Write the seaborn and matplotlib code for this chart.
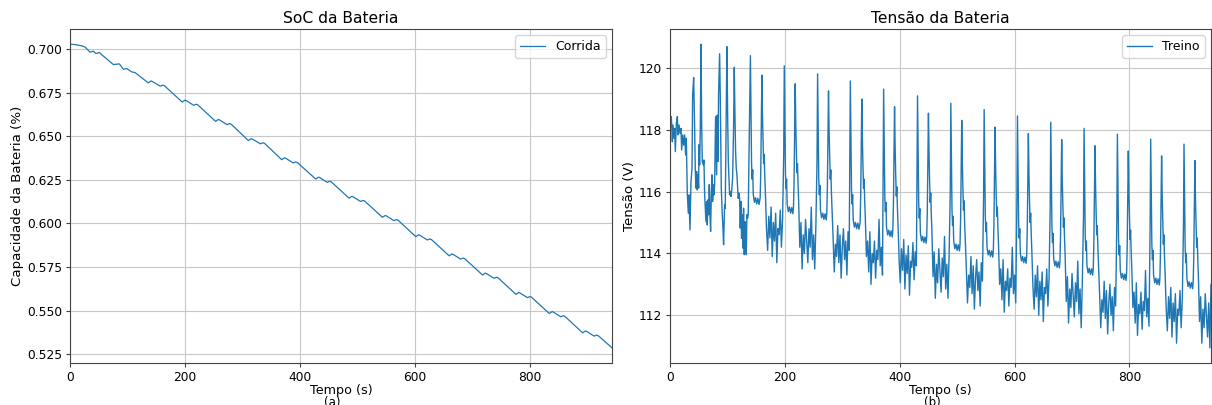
import matplotlib
matplotlib.use("Agg")
import matplotlib.pyplot as plt
import seaborn as sns
import pandas as pd

# ---------------- SoC data (left panel) ----------------
tempo_soc = [0, 10, 20, 26, 34.8, 40.6, 45.2, 51, 55, 75.4, 85.8, 92.8, 98.6, 107.2, 113,
             136, 141, 144, 157, 161, 164,
             195, 200, 203, 215, 219, 222,
             253, 258, 261, 273, 277, 280,
             310, 315, 318, 331, 335, 338,
             368, 373, 376, 388, 392, 395,
             427, 432, 435, 447, 451, 454,
             485, 490, 493, 505, 509, 512,
             543, 548, 551, 563, 567, 570,
             601, 606, 609, 621, 625, 628,
             659, 664, 667, 679, 683, 686,
             717, 722, 725, 737, 741, 744,
             775, 780, 783, 795, 799, 802,
             833, 838, 841, 853, 857, 860,
             891, 896, 899, 911, 915, 918,
             942]
soc = [0.7029, 0.7026, 0.7020, 0.7013, 0.6983, 0.6989, 0.6975, 0.6981, 0.6969, 0.6912, 0.6916, 0.6885, 0.6889, 0.6870, 0.6866,
       0.6807, 0.6818, 0.6813, 0.6788, 0.6794, 0.6791,
       0.6697, 0.6708, 0.6703, 0.6678, 0.6684, 0.6681,
       0.6586, 0.6597, 0.6592, 0.6567, 0.6573, 0.6570,
       0.6476, 0.6487, 0.6482, 0.6457, 0.6463, 0.6460,
       0.6366, 0.6377, 0.6372, 0.6347, 0.6353, 0.6350,
       0.6255, 0.6266, 0.6261, 0.6236, 0.6242, 0.6239,
       0.6145, 0.6156, 0.6151, 0.6126, 0.6132, 0.6129,
       0.6035, 0.6046, 0.6041, 0.6016, 0.6022, 0.6019,
       0.5924, 0.5935, 0.5930, 0.5905, 0.5911, 0.5908,
       0.5814, 0.5825, 0.5820, 0.5795, 0.5801, 0.5798,
       0.5704, 0.5715, 0.5710, 0.5685, 0.5691, 0.5688,
       0.5593, 0.5604, 0.5599, 0.5574, 0.5580, 0.5577,
       0.5483, 0.5494, 0.5489, 0.5464, 0.5470, 0.5467,
       0.5372, 0.5383, 0.5378, 0.5353, 0.5359, 0.5356,
       0.5286]

# ---------------- Voltage data (right panel) ----------------
tempo_tensao = [
    0, 1.2, 2.3, 4.1, 5.2, 7.0, 8.1, 9.3, 11.0, 12.8, 13.9, 15.7, 17.4, 19.1, 20.3, 22.0, 23.8, 25.5, 27.2, 28.4,
    30.1, 31.9, 33.0, 34.8, 36.5, 38.3, 39.4, 41.2, 42.9, 44.1, 45.2, 46.4, 47.5, 48.7, 49.9, 50.4, 51.6, 52.8,
    53.9, 55.1, 56.2, 58.0, 59.1, 60.3, 61.5, 62.6, 63.8, 64.9, 66.1, 67.2, 68.4, 69.6, 70.7, 71.9, 73.0, 74.2,
    75.4, 76.5, 77.7, 79.4, 81.2, 82.3, 83.5, 84.6, 86.4, 87.5, 88.1, 89.3, 91.0, 92.2, 93.3, 95.1, 96.2, 97.4,
    99.1, 100.3, 101.5, 102.6, 103.8, 104.9, 106.1, 107.3, 109.0, 110.7, 111.9, 113.0, 114.2, 115.4, 116.5,
    117.7, 118.8, 120.0, 121.2, 122.3, 123.5, 124.6, 125.8, 126.9, 128.1, 129.3, 130.4, 131.6, 132.8, 133.9,
    135.1, 136.2, 137.4, 139.1,
    140, 141, 142, 143, 144, 145, 147, 149, 151, 153, 155, 157, 158, 159, 160, 161, 162, 163, 164, 165, 166,
    168, 170, 172, 174, 176, 178, 180, 182, 184, 186, 188, 190, 192, 194, 196,
    198, 199, 200, 201, 202, 203, 204, 206, 208, 210, 212, 214, 215, 216, 217, 218, 219, 220, 221, 222, 223, 224,
    226, 228, 230, 232, 234, 236, 238, 240, 242, 244, 246, 248, 250, 252, 254,
    256, 257, 258, 259, 260, 261, 262, 264, 266, 268, 270, 272, 273, 274, 275, 276, 277, 278, 279, 280, 281, 282,
    284, 286, 288, 290, 292, 294, 296, 298, 300, 302, 304, 306, 308, 310, 312,
    313, 314, 315, 316, 317, 318, 319, 321, 323, 325, 327, 329, 331, 332, 333, 334, 335, 336, 337, 338, 339, 340,
    342, 344, 346, 348, 350, 352, 354, 356, 358, 360, 362, 364, 366, 368, 370,
    371, 372, 373, 374, 375, 376, 377, 379, 381, 383, 385, 387, 388, 389, 390, 391, 392, 393, 394, 395, 396, 397,
    399, 401, 403, 405, 407, 409, 411, 413, 415, 417, 419, 421, 423, 425, 427, 429,
    430, 431, 432, 433, 434, 435, 436, 438, 440, 442, 444, 446, 447, 448, 449, 450, 451, 452, 453, 454, 455, 456,
    458, 460, 462, 464, 466, 468, 470, 472, 474, 476, 478, 480, 482, 484, 486,
    488, 489, 490, 491, 492, 493, 494, 496, 498, 500, 502, 504, 505, 506, 507, 508, 509, 510, 511, 512, 513, 514,
    516, 518, 520, 522, 524, 526, 528, 530, 532, 534, 536, 538, 540, 542, 544,
    546, 547, 548, 549, 550, 551, 552, 554, 556, 558, 560, 562, 563, 564, 565, 566, 567, 568, 569, 570, 571, 572,
    574, 576, 578, 580, 582, 584, 586, 588, 590, 592, 594, 596, 598, 600, 602,
    604, 605, 606, 607, 608, 609, 610, 612, 614, 616, 618, 620, 621, 622, 623, 624, 625, 626, 627, 628, 629, 630,
    632, 634, 636, 638, 640, 642, 644, 646, 648, 650, 652, 654, 656, 658, 660,
    662, 663, 664, 665, 666, 667, 668, 670, 672, 674, 676, 678, 679, 680, 681, 682, 683, 684, 685, 686, 687, 688,
    690, 692, 694, 696, 698, 700, 702, 704, 706, 708, 710, 712, 714, 716, 718,
    720, 721, 722, 723, 724, 725, 726, 728, 730, 732, 734, 736, 737, 738, 739, 740, 741, 742, 743, 744, 745, 746,
    748, 750, 752, 754, 756, 758, 760, 762, 764, 766, 768, 770, 772, 774, 776,
    778, 779, 780, 781, 782, 783, 784, 786, 788, 790, 792, 794, 795, 796, 797, 798, 799, 800, 801, 802, 803, 804,
    806, 808, 810, 812, 814, 816, 818, 820, 822, 824, 826, 828, 830, 832, 834,
    836, 837, 838, 839, 840, 841, 842, 844, 846, 848, 850, 852, 853, 854, 855, 856, 857, 858, 859, 860, 861, 862,
    864, 866, 868, 870, 872, 874, 876, 878, 880, 882, 884, 886, 888, 890, 892,
    894, 895, 896, 897, 898, 899, 900, 902, 904, 906, 908, 910, 911, 912, 913, 914, 915, 916, 917, 918, 919, 920,
    922, 924, 926, 928, 930, 932, 934, 936, 938, 940, 942]
tensao = [
    118.0, 118.26, 118.42, 117.61, 118.15, 117.72, 118.04, 117.29, 118.2, 118.42, 117.83, 118.15, 117.88, 118.04, 117.34, 117.83, 117.5, 117.83, 117.18, 117.72,
    115.95, 115.3, 115.89, 114.76, 116.32, 116.75, 119.12, 119.68, 118.04, 116.65, 116.11, 116.65, 116.05, 116.54, 116.11, 117.51, 116.86, 118.04,
    120.76, 118.26, 116.97, 116.86, 117.02, 115.89, 115.46, 115.03, 115.68, 114.92, 115.73, 115.25, 116.22, 115.25, 114.71, 115.89, 116.54, 115.68,
    116.22, 115.89, 116.22, 118.42, 116.54, 118.47, 116.97, 119.17, 120.45, 119.12, 118.04, 116.11, 115.25, 114.82, 114.28, 115.57, 115.46, 117.51,
    120.68, 118.58, 116.97, 116.43, 115.89, 116.0, 115.84, 116.0, 116.43, 118.04, 120.01, 118.58, 117.29, 116.75, 116.54,
    116.11, 115.78, 115.95, 115.78, 114.82, 115.68, 114.49, 115.25, 114.17, 115.46, 113.96, 115.03, 114.28, 113.96, 115.25,
    115.14, 115.25, 116.97, 119.12,
    120.39, 118.59, 116.9, 116.4, 116.7, 115.9, 115.65, 115.8, 115.6, 115.78, 115.58, 115.8, 116.6, 118.2, 119.76, 118.46, 117.6, 116.9, 117.2, 116.5, 116.0,
    114.8, 114.1, 115.2, 114.5, 115.5, 113.9, 115.0, 114.4, 115.3, 113.7, 114.8, 114.6, 115.4, 114.2, 115.1,
    117.2, 120.06, 118.26, 116.6, 116.1, 116.4, 115.6, 115.35, 115.5, 115.3, 115.48, 115.28, 115.5, 116.3, 117.9, 119.48, 118.18, 117.3, 116.6, 116.9, 116.2, 115.7,
    114.2, 115.0, 113.5, 114.6, 114.0, 115.1, 114.4, 113.7, 114.8, 114.2, 115.5, 113.8, 114.6, 113.5, 114.9,
    117.0, 119.80, 118.0, 116.4, 115.9, 116.2, 115.4, 115.15, 115.3, 115.1, 115.28, 115.08, 115.3, 116.1, 117.7, 119.25, 117.95, 117.1, 116.4, 116.7, 116.0, 115.5,
    114.5, 113.4, 114.3, 113.9, 114.9, 113.7, 114.6, 113.2, 114.2, 114.8, 113.8, 114.4, 113.3, 114.7, 114.1,
    116.7, 119.57, 117.77, 116.1, 115.6, 115.9, 115.1, 114.85, 115.0, 114.8, 114.98, 114.78, 115.0, 115.8, 117.4, 118.99, 117.69, 116.8, 116.1, 116.4, 115.7, 115.2,
    113.9, 114.4, 113.4, 114.7, 113.0, 114.0, 113.7, 114.4, 113.2, 114.1, 113.8, 115.1, 113.6, 114.2, 113.3,
    116.45, 119.31, 117.51, 115.85, 115.35, 115.65, 114.85, 114.6, 114.75, 114.55, 114.73, 114.53, 114.75, 115.55, 117.15, 118.74, 117.44, 116.55, 115.85, 116.15, 115.45, 114.95,
    113.75, 113.05, 114.15, 113.45, 114.45, 112.85, 113.95, 113.35, 114.25, 112.65, 113.75, 113.55, 114.35, 113.15, 114.05, 113.6,
    116.25, 119.09, 117.29, 115.65, 115.15, 115.45, 114.65, 114.4, 114.55, 114.35, 114.53, 114.33, 114.55, 115.35, 116.95, 118.53, 117.23, 116.35, 115.65, 115.95, 115.25, 114.75,
    113.25, 114.05, 112.55, 113.65, 113.05, 114.15, 113.45, 112.75, 113.85, 113.25, 114.55, 112.85, 113.65, 112.55, 113.95,
    116.0, 118.85, 117.05, 115.4, 114.9, 115.2, 114.4, 114.15, 114.3, 114.1, 114.28, 114.08, 114.3, 115.1, 116.7, 118.30, 117.0, 116.1, 115.4, 115.7, 115.0, 114.5,
    113.5, 112.4, 113.3, 112.9, 113.9, 112.7, 113.6, 112.2, 113.2, 113.8, 112.8, 113.4, 112.3, 113.7, 113.1,
    115.8, 118.65, 116.85, 115.2, 114.7, 115.0, 114.2, 113.95, 114.1, 113.9, 114.08, 113.88, 114.1, 114.9, 116.5, 118.08, 116.78, 115.9, 115.2, 115.5, 114.8, 114.3,
    113.0, 113.5, 112.5, 113.8, 112.1, 113.1, 112.8, 113.5, 112.3, 113.2, 112.9, 114.2, 112.7, 113.3, 112.4,
    115.6, 118.44, 116.64, 115.0, 114.5, 114.8, 114.0, 113.75, 113.9, 113.7, 113.88, 113.68, 113.9, 114.7, 116.3, 117.87, 116.57, 115.7, 115.0, 115.3, 114.6, 114.1,
    112.9, 112.2, 113.3, 112.6, 113.6, 112.0, 113.1, 112.5, 113.4, 111.8, 112.9, 112.7, 113.5, 112.3, 113.2,
    115.45, 118.24, 116.44, 114.85, 114.35, 114.65, 113.85, 113.6, 113.75, 113.55, 113.73, 113.53, 113.75, 114.55, 116.15, 117.68, 116.38, 115.55, 114.85, 115.15, 114.45, 113.95,
    112.45, 113.25, 111.75, 112.85, 112.25, 113.35, 112.65, 111.95, 113.05, 112.45, 113.75, 112.05, 112.85, 111.6, 113.15,
    115.2, 118.04, 116.24, 114.6, 114.1, 114.4, 113.6, 113.37, 113.52, 113.32, 113.5, 113.3, 113.52, 114.3, 115.9, 117.48, 116.18, 115.3, 114.6, 114.9, 114.2, 113.7,
    112.7, 111.6, 112.5, 112.1, 113.1, 111.9, 112.8, 111.4, 112.4, 113.0, 112.0, 112.6, 111.5, 112.9, 112.3,
    115.05, 117.85, 116.05, 114.45, 113.95, 114.25, 113.45, 113.2, 113.35, 113.15, 113.33, 113.13, 113.35, 114.15, 115.75, 117.31, 116.01, 115.15, 114.45, 114.75, 114.05, 113.55,
    112.25, 112.75, 111.75, 113.05, 111.35, 112.35, 112.05, 112.75, 111.55, 112.45, 112.15, 113.45, 111.95, 112.55, 111.65,
    114.9, 117.69, 115.89, 114.3, 113.8, 114.1, 113.3, 113.05, 113.2, 113.0, 113.18, 112.98, 113.2, 114.0, 115.6, 117.15, 115.85, 115.0, 114.3, 114.6, 113.9, 113.4,
    112.2, 111.5, 112.6, 111.9, 112.9, 111.3, 112.4, 111.8, 112.7, 111.1, 112.2, 112.0, 112.8, 111.6, 112.5,
    114.78, 117.53, 115.73, 114.2, 113.7, 114.0, 113.2, 112.93, 113.08, 112.88, 113.06, 112.86, 113.08, 113.9, 115.5, 117.0, 115.7, 114.9, 114.2, 114.5, 113.8, 113.3,
    111.8, 112.6, 111.1, 112.2, 111.6, 112.7, 112.0, 111.3, 112.4, 110.95, 113.0]

titulos = ["SoC da Bateria", "Tensão da Bateria"]
rotulos_y = ["Capacidade da Bateria (%)", "Tensão (V)"]
legendas = ["Corrida", "Treino"]
subtitulos = ["(a)", "(b)"]

df_soc = pd.DataFrame({"Tempo (s)": tempo_soc, "SoC": soc})
df_v = pd.DataFrame({"Tempo (s)": tempo_tensao, "Tensão": tensao})

plt.rcParams["font.family"] = ["DejaVu Sans"]
fig = plt.figure(figsize=(12.12, 4.05), dpi=100)
ax1 = fig.add_axes([70 / 1212, 42 / 405, 542 / 1212, 334 / 405])
ax2 = fig.add_axes([670 / 1212, 42 / 405, 541 / 1212, 334 / 405])

azul = "#1f77b4"
sns.lineplot(data=df_soc, x="Tempo (s)", y="SoC", ax=ax1, color=azul, linewidth=0.9,
             label=legendas[0], sort=False)
sns.lineplot(data=df_v, x="Tempo (s)", y="Tensão", ax=ax2, color=azul, linewidth=1.0,
             label=legendas[1], sort=False)

for ax, tit, yl, sub in zip([ax1, ax2], titulos, rotulos_y, subtitulos):
    ax.set_xlim(0, 942)
    ax.set_title(tit, fontsize=11.2, pad=4)
    ax.set_ylabel(yl, fontsize=9.6, labelpad=2)
    ax.set_xlabel("Tempo (s)", fontsize=9.2, labelpad=0.5)
    ax.tick_params(labelsize=8.8, length=3, pad=2.5, color="#444444")
    ax.grid(True, color="#c8c8c8", linewidth=0.8)
    ax.set_axisbelow(True)
    for s in ax.spines.values():
        s.set_color("#444444")
    ax.legend(loc="upper right", fontsize=9)
    ax.set_xticks([0, 200, 400, 600, 800])

ax1.set_yticks([0.525, 0.550, 0.575, 0.600, 0.625, 0.650, 0.675, 0.700])
ax1.set_yticklabels([f"{v:.3f}" for v in ax1.get_yticks()])
ax2.set_yticks([112, 114, 116, 118, 120])

fig.text(332 / 1212, 9 / 405, subtitulos[0], ha="center", va="top", fontsize=8.5)
fig.text(932 / 1212, 9 / 405, subtitulos[1], ha="center", va="top", fontsize=8.5)

fig.savefig("out.png", dpi=100)
